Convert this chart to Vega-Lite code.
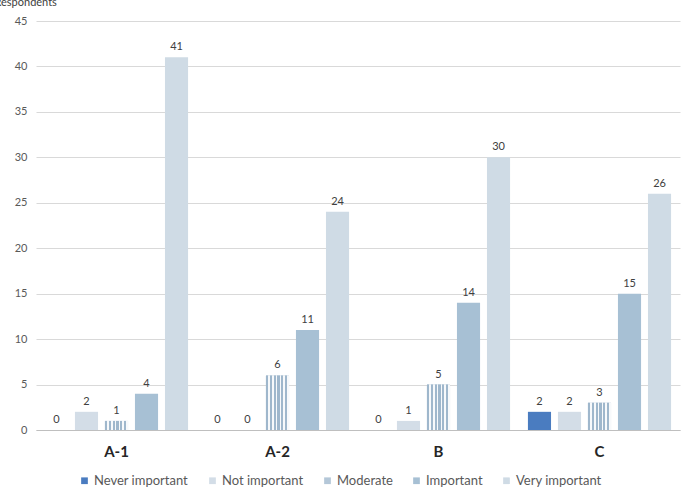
{
  "$schema": "https://vega.github.io/schema/vega-lite/v6.json",
  "width": 644,
  "height": 409,
  "autosize": "none",
  "padding": {"left": 36, "top": 21, "right": 3, "bottom": 60},
  "background": "white",
  "config": {"view": {"stroke": null}, "font": "Lato"},
  "data": {"values": [
    {"group": "A-1", "cat": "Never important", "value": 0},
    {"group": "A-1", "cat": "Not important", "value": 2},
    {"group": "A-1", "cat": "Moderate", "value": 1},
    {"group": "A-1", "cat": "Important", "value": 4},
    {"group": "A-1", "cat": "Very important", "value": 41},
    {"group": "A-2", "cat": "Never important", "value": 0},
    {"group": "A-2", "cat": "Not important", "value": 0},
    {"group": "A-2", "cat": "Moderate", "value": 6},
    {"group": "A-2", "cat": "Important", "value": 11},
    {"group": "A-2", "cat": "Very important", "value": 24},
    {"group": "B", "cat": "Never important", "value": 0},
    {"group": "B", "cat": "Not important", "value": 1},
    {"group": "B", "cat": "Moderate", "value": 5},
    {"group": "B", "cat": "Important", "value": 14},
    {"group": "B", "cat": "Very important", "value": 30},
    {"group": "C", "cat": "Never important", "value": 2},
    {"group": "C", "cat": "Not important", "value": 2},
    {"group": "C", "cat": "Moderate", "value": 3},
    {"group": "C", "cat": "Important", "value": 15},
    {"group": "C", "cat": "Very important", "value": 26}
  ]},
  "encoding": {
    "x": {
      "field": "group", "type": "nominal", "sort": null,
      "scale": {"paddingInner": 0.068, "paddingOuter": 0.034},
      "axis": {
        "title": null, "labelAngle": 0, "ticks": false,
        "domainColor": "#bfbfbf", "domainWidth": 1,
        "labelFontSize": 15, "labelFontWeight": "bold", "labelColor": "#262626",
        "labelPadding": 14, "labelFont": "Lato"
      }
    },
    "xOffset": {
      "field": "cat", "type": "nominal",
      "scale": {"domain": ["Never important", "Not important", "Moderate", "Important", "Very important"], "paddingInner": 0.23, "paddingOuter": 0.115}
    },
    "y": {
      "field": "value", "type": "quantitative",
      "scale": {"domain": [0, 45], "nice": false},
      "axis": {
        "values": [0, 5, 10, 15, 20, 25, 30, 35, 40, 45],
        "ticks": false, "domain": false,
        "gridColor": "#d9d9d9", "gridWidth": 1,
        "labelColor": "#595959", "labelFontSize": 11, "labelPadding": 9,
        "title": "Respondents", "titleAngle": 0, "titleAlign": "left",
        "titleBaseline": "alphabetic", "titleX": -42, "titleY": -16,
        "titleFontSize": 11, "titleFontWeight": "normal", "titleColor": "#404040"
      }
    }
  },
  "layer": [
    {
      "mark": {"type": "bar"},
      "encoding": {
        "color": {
          "field": "cat", "type": "nominal",
          "scale": {
            "domain": ["Never important", "Not important", "Moderate", "Important", "Very important"],
            "range": ["#4a7cc0", "#d3dde7", "#b4c7d8", "#a7c0d4", "#cfdbe5"]
          },
          "legend": {
            "title": null, "orient": "none", "direction": "horizontal",
            "legendX": 42, "legendY": 453,
            "symbolType": "square", "symbolSize": 45, "symbolStrokeWidth": 0,
            "labelFontSize": 13, "labelColor": "#595959", "labelOffset": 3,
            "columnPadding": 17, "labelFont": "Lato"
          }
        }
      }
    },
    {
      "transform": [{"filter": "datum.cat === 'Moderate'"}],
      "mark": {
        "type": "bar",
        "fill": {
          "gradient": "linear", "x1": 0, "y1": 0, "x2": 1, "y2": 0,
          "stops": [
            {"offset": 0, "color": "#9fb7cc"}, {"offset": 0.09, "color": "#9fb7cc"},
            {"offset": 0.09, "color": "#f7f9fb"}, {"offset": 0.167, "color": "#f7f9fb"},
            {"offset": 0.167, "color": "#9fb7cc"}, {"offset": 0.257, "color": "#9fb7cc"},
            {"offset": 0.257, "color": "#f7f9fb"}, {"offset": 0.333, "color": "#f7f9fb"},
            {"offset": 0.333, "color": "#9fb7cc"}, {"offset": 0.423, "color": "#9fb7cc"},
            {"offset": 0.423, "color": "#f7f9fb"}, {"offset": 0.5, "color": "#f7f9fb"},
            {"offset": 0.5, "color": "#9fb7cc"}, {"offset": 0.59, "color": "#9fb7cc"},
            {"offset": 0.59, "color": "#f7f9fb"}, {"offset": 0.667, "color": "#f7f9fb"},
            {"offset": 0.667, "color": "#9fb7cc"}, {"offset": 0.757, "color": "#9fb7cc"},
            {"offset": 0.757, "color": "#f7f9fb"}, {"offset": 0.833, "color": "#f7f9fb"},
            {"offset": 0.833, "color": "#9fb7cc"}, {"offset": 0.923, "color": "#9fb7cc"},
            {"offset": 0.923, "color": "#f7f9fb"}, {"offset": 1, "color": "#f7f9fb"}
          ]
        }
      },
      "encoding": {}
    },
    {
      "mark": {"type": "text", "dy": -10, "fontSize": 11, "color": "#404040", "font": "Lato"},
      "encoding": {"text": {"field": "value", "type": "quantitative"}}
    }
  ]
}
